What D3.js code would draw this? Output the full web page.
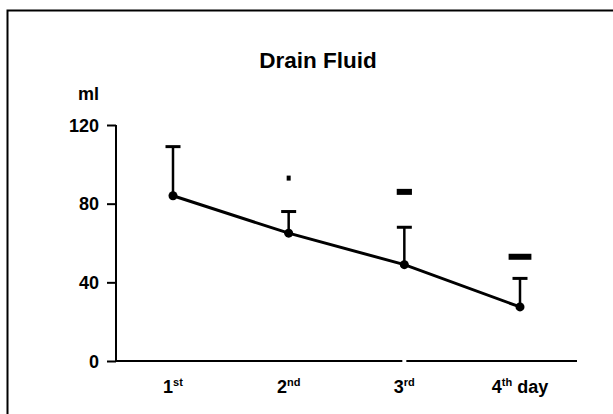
<!DOCTYPE html>
<html lang="en">
<head>
    <meta charset="UTF-8">
    <title>Drain Fluid</title>
    <script src="https://d3js.org/d3.v7.min.js"></script>
    <style>
        body { margin: 0; background: #fff; }
        svg { font-family: "Liberation Sans", Arial, sans-serif; display: block; }
    </style>
</head>
<body>
<div id="chart"></div>
<script>
    // data
    var days = ['1st', '2nd', '3rd', '4th'];
    var dayNum = ['1', '2', '3', '4'];
    var daySup = ['st', 'nd', 'rd', 'th'];
    var drainMean = [84, 65, 49, 27.5];
    var drainUpper = [109, 76, 68, 42];
    var sigLevel = [0, 1, 2, 3];      // number of stars above each day
    var sigValue = [null, 93, 86, 53];
    var yTicks = [0, 40, 80, 120];

    var W = 613, H = 414;
    var svg = d3.select('#chart').append('svg')
        .attr('width', W).attr('height', H);

    // frame (left and top edges)
    svg.append('path')
        .attr('d', 'M7.5,420V10.5H620')
        .attr('fill', 'none')
        .attr('stroke', '#000')
        .attr('stroke-width', 2);

    var x = d3.scalePoint().domain(days).range([173, 520]);
    var y = d3.scaleLinear().domain([0, 120]).range([361, 125]);
    var axisX = 116;

    // title
    svg.append('text')
        .attr('x', 318).attr('y', 68)
        .attr('text-anchor', 'middle')
        .attr('font-size', 22.5).attr('font-weight', 'bold')
        .text('Drain Fluid');

    // y axis
    var gy = svg.append('g').attr('transform', 'translate(' + axisX + ',0)')
        .call(d3.axisLeft(y).tickValues(yTicks).tickSize(9).tickPadding(8));
    gy.select('.domain').attr('stroke-width', 2).attr('d', 'M0,' + y(120) + 'V' + y(0));
    gy.selectAll('.tick line').attr('stroke-width', 2);
    gy.selectAll('.tick text')
        .attr('font-size', 18).attr('font-weight', 'bold')
        .attr('font-family', '"Liberation Sans", Arial, sans-serif')
        .attr('dy', '0.35em');

    svg.append('text')
        .attr('x', 99).attr('y', 100)
        .attr('text-anchor', 'end')
        .attr('font-size', 18).attr('font-weight', 'bold')
        .text('ml');

    // x axis line (with the small break seen in the original)
    var y0 = y(0);
    svg.append('path')
        .attr('d', 'M' + axisX + ',' + y0 + 'H' + (x('3rd') - 2) + 'M' + (x('3rd') + 2) + ',' + y0 + 'H577')
        .attr('stroke', '#000').attr('stroke-width', 2).attr('fill', 'none');

    // x tick labels
    var xl = svg.append('g').selectAll('text').data(days).join('text')
        .attr('x', d => x(d))
        .attr('y', 393)
        .attr('text-anchor', 'middle')
        .attr('font-weight', 'bold');
    xl.append('tspan').attr('font-size', 18).text((d, i) => dayNum[i]);
    xl.append('tspan').attr('font-size', 11).attr('dy', -7).text((d, i) => daySup[i]);
    xl.filter((d, i) => i === 3).append('tspan')
        .attr('font-size', 18).attr('dy', 7).text(' day');

    // error bars (upper only)
    var eb = svg.append('g').selectAll('g').data(days).join('g');
    eb.append('line')
        .attr('x1', d => x(d)).attr('x2', d => x(d))
        .attr('y1', (d, i) => y(drainMean[i])).attr('y2', (d, i) => y(drainUpper[i]))
        .attr('stroke', '#000').attr('stroke-width', 2.5);
    eb.append('line')
        .attr('x1', d => x(d) - 7.5).attr('x2', d => x(d) + 7.5)
        .attr('y1', (d, i) => y(drainUpper[i])).attr('y2', (d, i) => y(drainUpper[i]))
        .attr('stroke', '#000').attr('stroke-width', 3);

    // mean line
    var line = d3.line().x((d, i) => x(days[i])).y(d => y(d));
    svg.append('path')
        .datum(drainMean)
        .attr('d', line)
        .attr('fill', 'none')
        .attr('stroke', '#000')
        .attr('stroke-width', 3);

    svg.append('g').selectAll('circle').data(drainMean).join('circle')
        .attr('cx', (d, i) => x(days[i]))
        .attr('cy', d => y(d))
        .attr('r', 4.5)
        .attr('fill', '#000');

    // significance marks (rendered as small bars like the original)
    svg.append('g').selectAll('rect')
        .data(days.filter((d, i) => sigLevel[i] > 0))
        .join('rect')
        .each(function(d) {
            var i = days.indexOf(d);
            var w = sigLevel[i] === 1 ? 4 : sigLevel[i] * 7.6;
            var h = sigLevel[i] === 1 ? 5 : 6;
            d3.select(this)
                .attr('x', x(d) - w / 2)
                .attr('y', y(sigValue[i]) - h / 2)
                .attr('width', w).attr('height', h)
                .attr('fill', '#000');
        });
</script>
</body>
</html>
